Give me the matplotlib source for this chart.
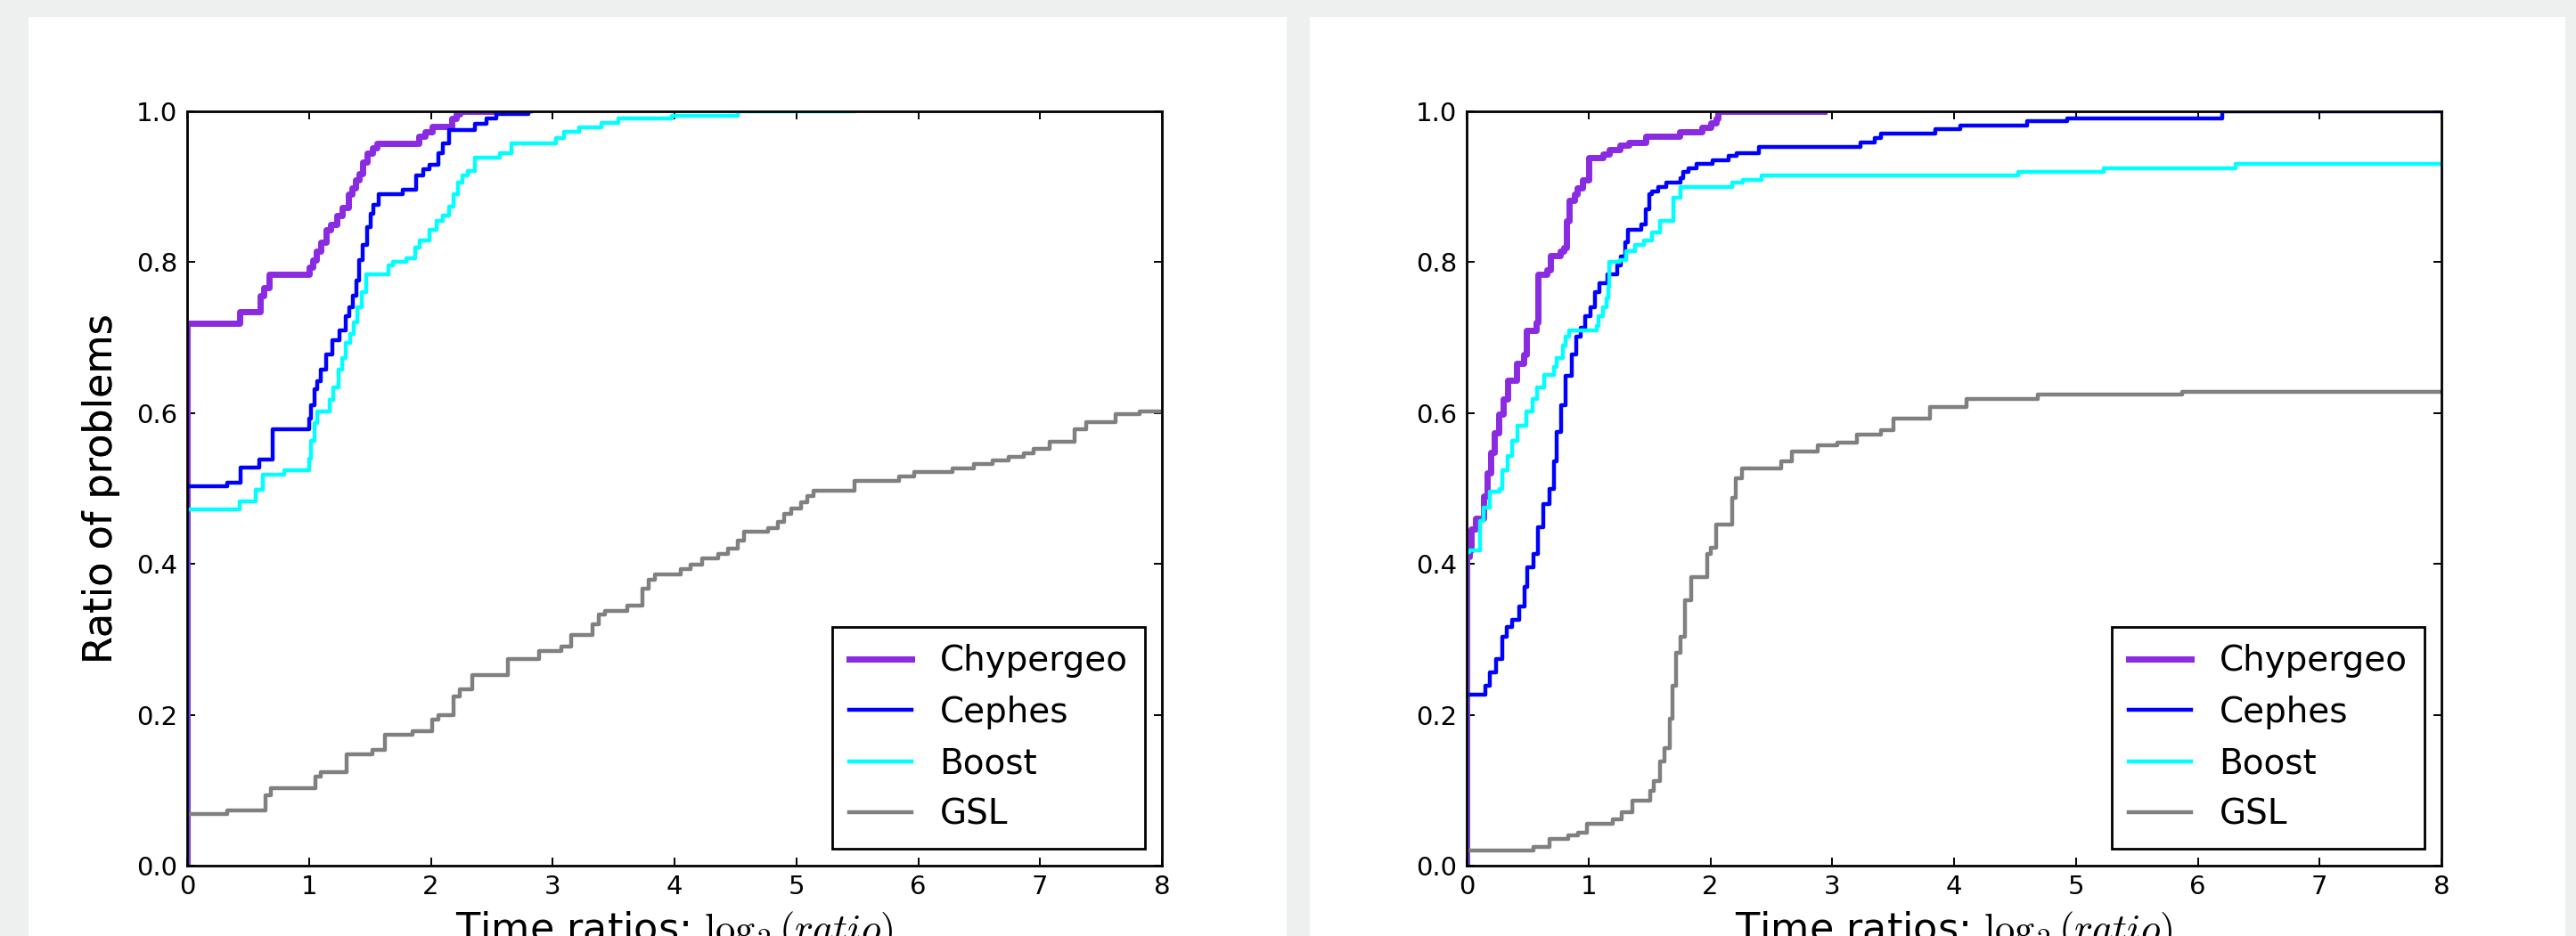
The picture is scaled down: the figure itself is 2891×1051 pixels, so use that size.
import numpy as np
import matplotlib
matplotlib.use("Agg")
import matplotlib.pyplot as plt
from matplotlib.patches import Rectangle

plt.rcParams['font.family'] = ['DejaVu Sans']
plt.rcParams['mathtext.fontset'] = 'cm'

labels = ['Chypergeo', 'Cephes', 'Boost', 'GSL']
colors = ['blueviolet', 'blue', 'cyan', 'gray']
widths = [5.0, 3.2, 3.2, 3.2]

# left panel: (log2 ratio, ratio of problems) step points
left_chyp_x = [0, 0, 0.43, 0.60, 0.63, 0.67, 1.0, 1.03, 1.06, 1.10, 1.14, 1.18, 1.23, 1.27, 1.32, 1.35,
               1.38, 1.41, 1.44, 1.48, 1.52, 1.56, 1.90, 1.95, 2.01, 2.17, 2.21, 2.24, 2.5]
left_chyp_y = [0, 0.719, 0.734, 0.756, 0.766, 0.784, 0.793, 0.803, 0.815, 0.827, 0.843, 0.850, 0.862, 0.872,
               0.890, 0.898, 0.909, 0.917, 0.933, 0.945, 0.952, 0.958, 0.967, 0.973, 0.980, 0.990, 0.997, 1.0, 1.0]

left_ceph_x = [0, 0, 0.33, 0.44, 0.59, 0.70, 1.0, 1.02, 1.045, 1.07, 1.10, 1.14, 1.19, 1.25, 1.30, 1.33, 1.36,
               1.39, 1.41, 1.44, 1.48, 1.505, 1.53, 1.57, 1.77, 1.88, 1.94, 1.99, 2.065, 2.10, 2.15, 2.36, 2.46,
               2.54, 2.80, 2.82]
left_ceph_y = [0, 0.503, 0.508, 0.528, 0.538, 0.579, 0.593, 0.610, 0.632, 0.642, 0.658, 0.678, 0.697, 0.709,
               0.728, 0.740, 0.756, 0.776, 0.803, 0.823, 0.847, 0.864, 0.876, 0.890, 0.896, 0.915, 0.923, 0.929,
               0.945, 0.957, 0.975, 0.984, 0.990, 0.996, 1.0, 1.0]

left_boost_x = [0, 0, 0.43, 0.56, 0.62, 0.80, 1.0, 1.02, 1.045, 1.07, 1.17, 1.20, 1.24, 1.27, 1.30, 1.34, 1.37,
                1.40, 1.43, 1.47, 1.65, 1.69, 1.80, 1.87, 1.91, 1.99, 2.05, 2.10, 2.15, 2.19, 2.22, 2.26, 2.30,
                2.36, 2.57, 2.66, 3.03, 3.09, 3.22, 3.40, 3.54, 3.98, 4.52, 5.47]
left_boost_y = [0, 0.472, 0.483, 0.498, 0.518, 0.524, 0.540, 0.563, 0.587, 0.602, 0.618, 0.634, 0.658, 0.673,
                0.693, 0.705, 0.720, 0.740, 0.760, 0.784, 0.796, 0.800, 0.805, 0.819, 0.829, 0.843, 0.855, 0.862,
                0.874, 0.890, 0.905, 0.915, 0.921, 0.939, 0.945, 0.958, 0.964, 0.973, 0.979, 0.985, 0.990, 0.994,
                1.0, 1.0]

left_gsl_x = [0, 0, 0.33, 0.64, 0.69, 1.05, 1.10, 1.31, 1.52, 1.62, 1.85, 2.01, 2.06, 2.19, 2.24, 2.34, 2.63,
              2.89, 3.07, 3.15, 3.33, 3.38, 3.43, 3.61, 3.74, 3.79, 3.84, 4.05, 4.13, 4.23, 4.36, 4.44, 4.52,
              4.57, 4.77, 4.85, 4.90, 4.96, 5.04, 5.09, 5.14, 5.48, 5.84, 5.97, 6.28, 6.46, 6.61, 6.74, 6.87,
              6.95, 7.08, 7.28, 7.38, 7.62, 7.82, 8.0]
left_gsl_y = [0, 0.069, 0.073, 0.093, 0.103, 0.1175, 0.1235, 0.148, 0.153, 0.173, 0.178, 0.194, 0.199, 0.224,
              0.234, 0.253, 0.274, 0.2845, 0.291, 0.306, 0.320, 0.333, 0.338, 0.345, 0.367, 0.379, 0.386, 0.393,
              0.399, 0.407, 0.413, 0.4205, 0.431, 0.443, 0.447, 0.456, 0.466, 0.474, 0.482, 0.490, 0.497, 0.5105,
              0.516, 0.522, 0.5265, 0.532, 0.537, 0.542, 0.547, 0.553, 0.562, 0.578, 0.588, 0.598, 0.602, 0.602]

# right panel
right_chyp_x = [0, 0, 0.02, 0.04, 0.07, 0.14, 0.165, 0.20, 0.23, 0.26, 0.30, 0.34, 0.41, 0.465, 0.49, 0.57,
                0.583, 0.658, 0.687, 0.765, 0.80, 0.819, 0.84, 0.885, 0.907, 0.948, 1.0, 1.12, 1.17, 1.26, 1.33,
                1.47, 1.745, 1.93, 2.0, 2.045, 2.06, 2.93]
right_chyp_y = [0, 0.41, 0.418, 0.446, 0.461, 0.49, 0.521, 0.548, 0.574, 0.599, 0.619, 0.644, 0.666, 0.678,
                0.709, 0.72, 0.784, 0.79, 0.809, 0.815, 0.819, 0.855, 0.882, 0.89, 0.898, 0.909, 0.939, 0.943,
                0.949, 0.955, 0.959, 0.967, 0.973, 0.979, 0.985, 0.99, 1.0, 1.0]

right_ceph_x = [0, 0, 0.153, 0.19, 0.24, 0.29, 0.33, 0.37, 0.43, 0.475, 0.50, 0.55, 0.585, 0.63, 0.68, 0.72,
                0.74, 0.775, 0.81, 0.86, 0.897, 0.935, 0.975, 1.015, 1.05, 1.09, 1.155, 1.236, 1.262, 1.30,
                1.327, 1.43, 1.47, 1.497, 1.52, 1.57, 1.64, 1.755, 1.78, 1.82, 1.887, 2.02, 2.15, 2.215, 2.40,
                3.23, 3.35, 3.40, 3.85, 4.05, 4.6, 4.93, 6.2, 8.0]
right_ceph_y = [0, 0.227, 0.238, 0.256, 0.274, 0.304, 0.317, 0.326, 0.343, 0.37, 0.396, 0.413, 0.449, 0.479,
                0.50, 0.536, 0.575, 0.61, 0.649, 0.678, 0.701, 0.713, 0.728, 0.74, 0.76, 0.772, 0.784, 0.796,
                0.808, 0.827, 0.843, 0.85, 0.87, 0.89, 0.894, 0.90, 0.905, 0.911, 0.92, 0.925, 0.93, 0.935,
                0.941, 0.945, 0.953, 0.959, 0.965, 0.97, 0.976, 0.981, 0.987, 0.991, 1.0, 1.0]

right_boost_x = [0, 0, 0.02, 0.11, 0.14, 0.19, 0.267, 0.29, 0.335, 0.37, 0.42, 0.49, 0.54, 0.58, 0.637, 0.713,
                 0.74, 0.79, 0.81, 0.84, 1.066, 1.08, 1.12, 1.145, 1.16, 1.17, 1.26, 1.31, 1.38, 1.455, 1.52,
                 1.587, 1.70, 1.755, 2.176, 2.27, 2.42, 4.53, 5.23, 6.31, 8.0]
right_boost_y = [0, 0.415, 0.418, 0.457, 0.475, 0.496, 0.50, 0.524, 0.543, 0.563, 0.583, 0.602, 0.619, 0.634,
                 0.65, 0.661, 0.673, 0.69, 0.701, 0.709, 0.715, 0.728, 0.74, 0.752, 0.768, 0.80, 0.803, 0.815,
                 0.823, 0.829, 0.839, 0.855, 0.886, 0.90, 0.905, 0.909, 0.915, 0.92, 0.925, 0.93, 0.93]

right_gsl_x = [0, 0, 0.55, 0.68, 0.834, 0.914, 0.99, 1.20, 1.275, 1.36, 1.51, 1.535, 1.587, 1.623, 1.664,
               1.69, 1.716, 1.755, 1.79, 1.84, 1.975, 2.0, 2.05, 2.18, 2.21, 2.26, 2.58, 2.67, 2.88, 3.04, 3.2,
               3.4, 3.5, 3.8, 4.1, 4.69, 5.87, 8.0]
right_gsl_y = [0, 0.020, 0.025, 0.035, 0.040, 0.044, 0.055, 0.0615, 0.071, 0.0857, 0.099, 0.112, 0.138, 0.156,
               0.195, 0.238, 0.282, 0.304, 0.352, 0.383, 0.413, 0.422, 0.4526, 0.4876, 0.5136, 0.526, 0.536,
               0.549, 0.557, 0.561, 0.571, 0.577, 0.593, 0.608, 0.619, 0.624, 0.628, 0.628]

panels = [
    [(left_chyp_x, left_chyp_y), (left_ceph_x, left_ceph_y), (left_boost_x, left_boost_y), (left_gsl_x, left_gsl_y)],
    [(right_chyp_x, right_chyp_y), (right_ceph_x, right_ceph_y), (right_boost_x, right_boost_y), (right_gsl_x, right_gsl_y)],
]

W, H = 2891, 1051
fig = plt.figure(figsize=(W / 100, H / 100), dpi=100, facecolor='#eef0ef')

# white page blocks behind each chart
for x0, x1 in [(32, 1444), (1470, 2879)]:
    fig.patches.append(Rectangle((x0 / W, 0), (x1 - x0) / W, (H - 19) / H,
                                 transform=fig.transFigure, facecolor='white', edgecolor='none', zorder=-10))

for i, series in enumerate(panels):
    left = 210 + i * 1436
    ax = fig.add_axes([left / W, (H - 972) / H, 1094 / W, 847 / H])
    ax.set_zorder(1)
    for (xs, ys), lab, c, lw in zip(series, labels, colors, widths):
        ax.plot(xs, ys, drawstyle='steps-post', color=c, lw=lw, label=lab)
    ax.set_xlim(0, 8)
    ax.set_ylim(0, 1)
    ax.set_yticks(np.arange(0, 1.01, 0.2))
    ax.tick_params(direction='in', top=True, right=True, length=6.5, width=1.4, labelsize=21)
    ax.tick_params(axis='x', pad=7)
    ax.tick_params(axis='y', pad=8)
    for s in ax.spines.values():
        s.set_linewidth(2.0)
    ax.set_ylabel('Ratio of problems', fontsize=32)
    ax.yaxis.set_label_coords((135 - left) / 1094, 0.5)
    ax.set_xlabel('Time ratios: $\\log_2(ratio)$', fontsize=32)
    ax.xaxis.set_label_coords(0.5, -(1022 - 972) / 847)
    leg = ax.legend(loc='lower right', bbox_to_anchor=(0.9826, 0.0224), borderaxespad=0,
                    fontsize=28, fancybox=False, handlelength=1.8, handletextpad=0.8,
                    labelspacing=0.5, borderpad=0.5, framealpha=1)
    leg.get_frame().set_edgecolor('black')
    leg.get_frame().set_linewidth(2.0)

fig.savefig('out.png', dpi=100, facecolor=fig.get_facecolor())
